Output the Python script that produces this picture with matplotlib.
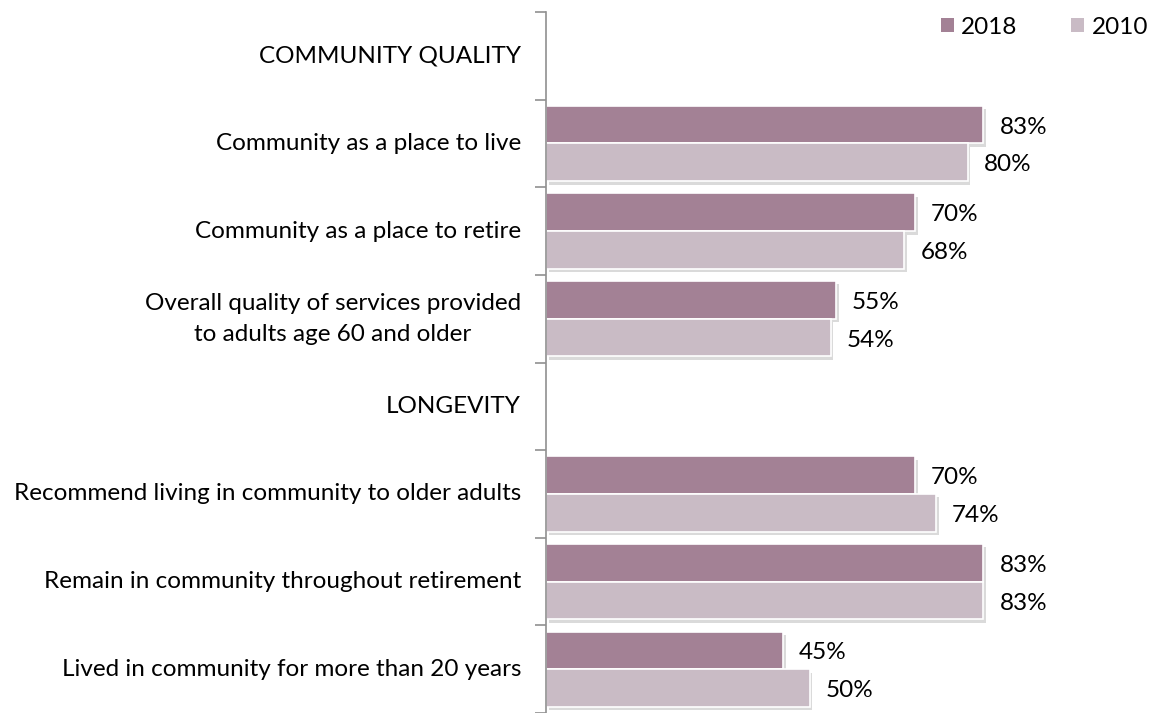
import matplotlib
matplotlib.use("Agg")
import matplotlib.pyplot as plt
import matplotlib.patheffects as pe
from matplotlib.patches import Patch
import numpy as np

plt.rcParams['font.family'] = ['Lato', 'DejaVu Sans']

categories = [
    "COMMUNITY QUALITY",
    "Community as a place to live",
    "Community as a place to retire",
    "Overall quality of services provided\nto adults age 60 and older",
    "LONGEVITY",
    "Recommend living in community to older adults",
    "Remain in community throughout retirement",
    "Lived in community for more than 20 years",
]
values_2018 = [None, 83, 70, 55, None, 70, 83, 45]
values_2010 = [None, 80, 68, 54, None, 74, 83, 50]
series_names = ["2018", "2010"]
colors = ["#A38195", "#C9BBC5"]

W, H = 1161, 713
fig = plt.figure(figsize=(W / 100, H / 100), dpi=100)
ax_left, ax_right, ax_top, ax_bottom = 546, 1161, 12, 713
ax = fig.add_axes([ax_left / W, 1 - ax_bottom / H, (ax_right - ax_left) / W, (ax_bottom - ax_top) / H])

px_per_pct = 5.27
ax.set_xlim(0, (ax_right - ax_left) / px_per_pct)
n = len(categories)
ax.set_ylim(n, 0)

FS = 17.5
bar_h = 0.43
shadow = [pe.SimplePatchShadow(offset=(2, -2.5), shadow_rgbFace="#7a7a7a", alpha=0.28), pe.Normal()]
for i, (v18, v10) in enumerate(zip(values_2018, values_2010)):
    c = i + 0.5
    for v, off, col in [(v18, -bar_h / 2, colors[0]), (v10, bar_h / 2, colors[1])]:
        if v is None:
            continue
        b = ax.barh(c + off, v, height=bar_h, color=col, edgecolor="white", linewidth=1.2)
        for p in b.patches:
            p.set_path_effects(shadow)
        ax.text(v + 16 / px_per_pct, c + off + 0.03, f"{v}%", va="center", ha="left",
                fontsize=FS, color="black")

# category labels
ax.set_yticks([])
for i, lab in enumerate(categories):
    ax.text(-25 / px_per_pct, i + 0.5, lab, ha="right", va="center", fontsize=FS,
            color="black", linespacing=1.6, multialignment="center")

# boundary ticks
ax.set_yticks(np.arange(0, n + 1), minor=True)
ax.tick_params(axis="y", which="minor", length=8, width=1.2, color="#909090", labelleft=False)
ax.tick_params(axis="y", which="major", length=0)
ax.set_xticks([])
for s in ["top", "right", "bottom"]:
    ax.spines[s].set_visible(False)
ax.spines["left"].set_color("#909090")
ax.spines["left"].set_linewidth(1.2)

# legend
handles = [Patch(facecolor=colors[0]), Patch(facecolor=colors[1])]
leg = fig.legend(handles, series_names, loc="upper right", bbox_to_anchor=(1158 / W, 1 - 7 / H),
                 ncol=2, frameon=False, fontsize=FS, handlelength=0.55, handleheight=0.55,
                 handletextpad=0.3, columnspacing=2.2, borderaxespad=0)

fig.savefig("out.png", dpi=100)
